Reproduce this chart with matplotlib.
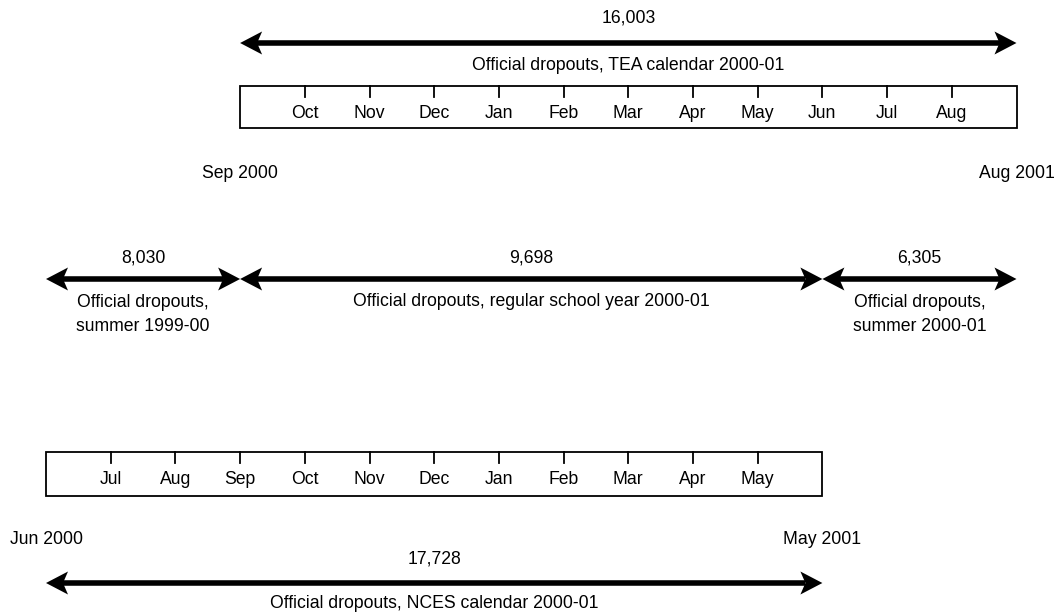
import matplotlib.pyplot as plt
from matplotlib import font_manager
from matplotlib.patches import Rectangle

names = {f.name for f in font_manager.fontManager.ttflist}
if 'Liberation Sans Narrow' in names:
    plt.rcParams['font.family'] = ['Liberation Sans Narrow', 'DejaVu Sans']
    fs = 15.5
else:
    plt.rcParams['font.family'] = ['Liberation Sans', 'DejaVu Sans']
    fs = 12.7

# months counted from the start of Jun 2000
tea_months = ['Oct', 'Nov', 'Dec', 'Jan', 'Feb', 'Mar', 'Apr', 'May', 'Jun', 'Jul', 'Aug']
nces_months = ['Jul', 'Aug', 'Sep', 'Oct', 'Nov', 'Dec', 'Jan', 'Feb', 'Mar', 'Apr', 'May']
tea_start, tea_end = 3, 15      # Sep 2000 .. end of Aug 2001
nces_start, nces_end = 0, 12    # Jun 2000 .. end of May 2001

# periods: (start, end, count, label)
periods = [
    (0, 3, 8030, 'Official dropouts,\nsummer 1999-00'),
    (3, 12, 9698, 'Official dropouts, regular school year 2000-01'),
    (12, 15, 6305, 'Official dropouts,\nsummer 2000-01'),
]
tea_total = 16003
nces_total = 17728

px = 64.7  # pixels per month
fig = plt.figure(figsize=(10.55, 6.14), dpi=100)
ax = fig.add_axes([0, 0, 1, 1])
ax.set_xlim(-46 / px, (1055 - 46) / px)
ax.set_ylim(614, 0)
ax.axis('off')


def head(tip, direction, y):
    # stealth-style head: length 22px, half width 11.5px, notch 5px
    L, N, W = 22 / px, 5 / px, 11.5
    back = tip - direction * L
    notch = back + direction * N
    ax.fill([tip, back, notch, back], [y, y - W, y, y + W],
            color='black', lw=0)
    return notch


def arrow(x0, x1, y):
    a = head(x0, -1, y)
    b = head(x1, 1, y)
    ax.plot([a, b], [y, y], color='black', lw=4, solid_capstyle='butt')


def timeline(start, end, labels, top, bottom):
    ax.add_patch(Rectangle((start, top), end - start, bottom - top,
                           fill=False, lw=1.3, ec='black'))
    for i, lab in enumerate(labels):
        m = start + 1 + i
        ax.plot([m, m], [top, top + 11], color='black', lw=1.3)
        ax.text(m, top + 28, lab, ha='center', va='center', fontsize=fs)


# TEA calendar
arrow(tea_start, tea_end, 43)
ax.text((tea_start + tea_end) / 2, 18, f'{tea_total:,}', ha='center', va='center', fontsize=fs)
ax.text((tea_start + tea_end) / 2, 65, 'Official dropouts, TEA calendar 2000-01',
        ha='center', va='center', fontsize=fs)
timeline(tea_start, tea_end, tea_months, 86, 128)
ax.text(tea_start, 173, 'Sep 2000', ha='center', va='center', fontsize=fs)
ax.text(tea_end, 173, 'Aug 2001', ha='center', va='center', fontsize=fs)

# school periods
for s, e, n, lab in periods:
    arrow(s, e, 279)
    ax.text((s + e) / 2, 258, f'{n:,}', ha='center', va='center', fontsize=fs)
    ax.text((s + e) / 2, 302 + 12.5 * lab.count('\n'), lab, ha='center',
            va='center', fontsize=fs, linespacing=1.5)

# NCES calendar
timeline(nces_start, nces_end, nces_months, 452, 496)
ax.text(nces_start, 539, 'Jun 2000', ha='center', va='center', fontsize=fs)
ax.text(nces_end, 539, 'May 2001', ha='center', va='center', fontsize=fs)
ax.text((nces_start + nces_end) / 2, 559, f'{nces_total:,}', ha='center', va='center', fontsize=fs)
arrow(nces_start, nces_end, 583)
ax.text((nces_start + nces_end) / 2, 604, 'Official dropouts, NCES calendar 2000-01',
        ha='center', va='center', fontsize=fs)

fig.savefig('out.png', dpi=100)
